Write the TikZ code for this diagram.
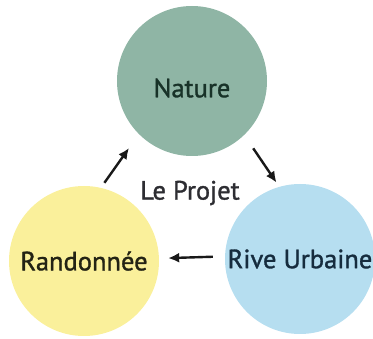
\documentclass[tikz,border=0pt]{standalone}
\usepackage{fontspec}
\setmainfont[FakeBold=1.2]{PT Sans}
\usetikzlibrary{arrows.meta}
\definecolor{natfill}{RGB}{143,181,165}
\definecolor{ranfill}{RGB}{250,240,155}
\definecolor{rivfill}{RGB}{182,222,240}
\definecolor{nattext}{RGB}{24,50,40}
\definecolor{rantext}{RGB}{35,35,20}
\definecolor{rivtext}{RGB}{22,44,62}
\definecolor{projtext}{RGB}{45,45,50}
\tikzset{
  labfont/.style={font=\fontsize{26.5}{28}\selectfont},
  bubble/.style={circle, inner sep=0pt, minimum size=150pt, labfont},
  arr/.style={line width=2.4pt, -{Latex[length=11pt,width=10pt]}, black!90}
}
\begin{document}
\begin{tikzpicture}[x=1pt,y=-1pt]
\useasboundingbox (0,0) rectangle (373,339);
\node[bubble, fill=natfill] (nat) at (192,81) {};
\node[labfont, text=nattext] (natlab) at (192,88) {Nature};
\node[bubble, fill=ranfill, text=rantext] (ran) at (84,261) {Randonnée};
\node[bubble, fill=rivfill, text=rivtext] (riv) at (300,259) {Rive Urbaine};
\node[labfont, text=projtext] (proj) at (190,193) {Le Projet};
\draw[arr, shorten <=6pt, shorten >=17pt] (ran.77) -- (nat.225);
\draw[arr, shorten <=16pt, shorten >=5pt] (nat.-46) -- (riv.106);
\draw[arr, shorten <=12pt, shorten >=9pt] (riv.178) -- (ran.2);
\end{tikzpicture}
\end{document}
